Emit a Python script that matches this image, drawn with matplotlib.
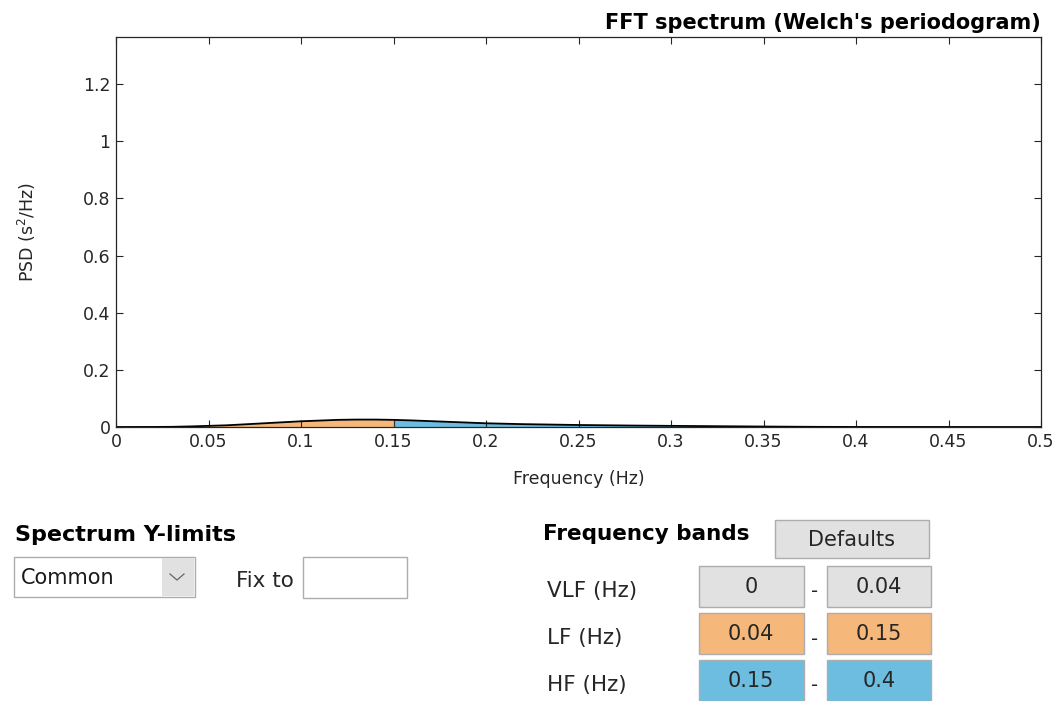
import matplotlib
matplotlib.use("Agg")
import matplotlib.pyplot as plt
from matplotlib.patches import Rectangle
from matplotlib.ticker import FuncFormatter, MultipleLocator
import numpy as np

plt.rcParams["font.family"] = ["DejaVu Sans"]

# Welch PSD estimate
freq = [0.0, 0.02, 0.03, 0.04, 0.06, 0.08, 0.10, 0.12, 0.13, 0.14, 0.15, 0.16,
        0.18, 0.20, 0.22, 0.25, 0.28, 0.30, 0.33, 0.36, 0.38, 0.40, 0.45, 0.50]
psd = [0.0, 0.0002, 0.0006, 0.002, 0.006, 0.013, 0.020, 0.025, 0.026, 0.026,
       0.025, 0.023, 0.018, 0.013, 0.010, 0.007, 0.005, 0.004, 0.0025, 0.0012,
       0.0005, 0.0002, 0.0001, 0.0]

band_names = ["VLF (Hz)", "LF (Hz)", "HF (Hz)"]
band_lo = [0, 0.04, 0.15]
band_hi = [0.04, 0.15, 0.4]
band_colors = ["#e1e1e1", "#f5b87a", "#6cbde0"]

W, H = 1063, 701
TXT = "#262626"


def fx(px):
    return px / W


def fy(py):
    return 1 - py / H


fig = plt.figure(figsize=(W / 100, H / 100), dpi=100)
ax = fig.add_axes([fx(116), fy(427), fx(1041) - fx(116), fy(37) - fy(427)])

f = np.array(freq)
p = np.array(psd)
for lo, hi, col, name in zip(band_lo, band_hi, band_colors, band_names):
    if name.startswith("VLF"):
        continue
    m = (f >= lo) & (f <= hi)
    ax.fill_between(f[m], 0, p[m], color=col, edgecolor="none")
    ax.plot([hi, hi], [0, np.interp(hi, f, p)], color="#333333", lw=0.8)
ax.plot(f, p, color="black", lw=1.3)

ax.set_xlim(0, 0.5)
ax.set_ylim(0, 1.365)
ax.xaxis.set_major_locator(MultipleLocator(0.05))
ax.yaxis.set_major_locator(MultipleLocator(0.2))
fmt = FuncFormatter(lambda v, _: f"{v:g}")
ax.xaxis.set_major_formatter(fmt)
ax.yaxis.set_major_formatter(fmt)
ax.tick_params(direction="in", top=True, right=True, length=5, labelsize=12.5,
               colors=TXT, width=0.8, pad=4)
for s in ax.spines.values():
    s.set_color(TXT)
    s.set_linewidth(0.9)
ax.set_xlabel("Frequency (Hz)", fontsize=12.5, color=TXT, labelpad=14)
ax.set_ylabel("PSD (s$^2$/Hz)", fontsize=12.5, color=TXT, labelpad=32)
ax.set_title("FFT spectrum (Welch's periodogram)", loc="right", fontsize=15,
             fontweight="bold", pad=6)


def box(x0, y0, x1, y1, face, edge="#adadad"):
    fig.patches.append(Rectangle((fx(x0), fy(y1)), fx(x1) - fx(x0), fy(y0) - fy(y1),
                                 transform=fig.transFigure, facecolor=face,
                                 edgecolor=edge, lw=1.0))


def label(x, y, s, **kw):
    kw.setdefault("fontsize", 15.5)
    kw.setdefault("color", TXT)
    fig.text(fx(x), fy(y), s, va="center", **kw)


# Spectrum Y-limits controls
label(15, 535, "Spectrum Y-limits", fontweight="bold", fontsize=16, color="black")
box(14, 557, 195, 597, "white")
box(162, 558, 194, 596, "#e1e1e1", edge="none")
label(21, 578, "Common", fontsize=15, color="#1a1a1a")
arrow_x = [170, 177, 184]
fig.lines.append(plt.Line2D([fx(v) for v in arrow_x], [fy(574), fy(580), fy(574)],
                            transform=fig.transFigure, color="#666666", lw=0.9))
label(236, 581, "Fix to")
box(303, 557, 407, 598, "white")

# Frequency band controls
label(543, 534, "Frequency bands", fontweight="bold", fontsize=15.5, color="black")
box(775, 520, 929, 558, "#e1e1e1")
label(852, 540, "Defaults", ha="center", fontsize=15)
row_top = [566, 613, 660]
for name, lo, hi, col, top in zip(band_names, band_lo, band_hi, band_colors, row_top):
    bot = top + 41
    label(547, top + 25, name)
    box(699, top, 804, bot, col)
    box(827, top, 931, bot, col)
    label(751, top + 21, f"{lo:g}", ha="center", fontsize=15)
    label(879, top + 21, f"{hi:g}", ha="center", fontsize=15)
    label(815, top + 26, "-", ha="center", fontsize=14)

fig.savefig("out.png", dpi=100)
